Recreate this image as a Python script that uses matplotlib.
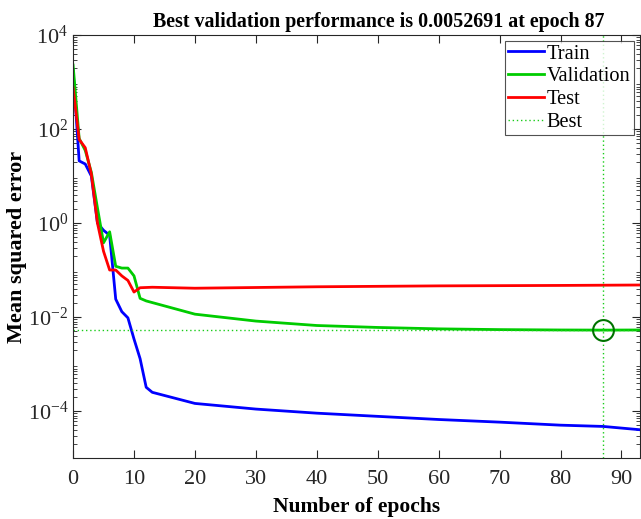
import numpy as np
import matplotlib
matplotlib.use("Agg")
import matplotlib.pyplot as plt
from matplotlib.ticker import LogLocator, NullFormatter, MultipleLocator

plt.rcParams['font.family'] = ['Liberation Serif', 'DejaVu Serif']
plt.rcParams['mathtext.fontset'] = 'custom'
plt.rcParams['mathtext.rm'] = 'Liberation Serif'
plt.rcParams['mathtext.default'] = 'regular'

# training record, sampled at the epochs where the curves bend
train_ep = [0, 1, 2, 3, 4, 5, 6, 7, 8, 9, 10, 11, 12, 13, 20, 30, 40, 50, 60, 70, 80, 87, 93]
train_mse = [1800, 21, 18, 10, 1.0, 0.7, 0.55, 0.024, 0.013, 0.0096, 0.0034, 0.0013,
             3.2e-4, 2.5e-4, 1.45e-4, 1.1e-4, 9.0e-5, 7.7e-5, 6.6e-5, 5.8e-5, 5.0e-5,
             4.7e-5, 4.0e-5]

val_ep = [0, 1, 2, 3, 4, 5, 6, 7, 8, 9, 10, 11, 12, 20, 30, 40, 50, 60, 70, 80, 87, 93]
val_mse = [2300, 63, 35, 12, 2.1, 0.38, 0.65, 0.12, 0.11, 0.11, 0.075, 0.025, 0.022,
           0.0115, 0.0082, 0.0066, 0.0060, 0.0056, 0.0054, 0.0053, 0.0052691, 0.0053]

test_ep = [0, 1, 2, 3, 4, 5, 6, 7, 8, 9, 10, 11, 13, 20, 40, 60, 80, 93]
test_mse = [770, 60, 40, 11, 1.0, 0.25, 0.10, 0.10, 0.075, 0.06, 0.034, 0.042, 0.043,
            0.041, 0.044, 0.046, 0.047, 0.048]

best_epoch = 87
best_perf = 0.0052691
n_epochs = 93

fig = plt.figure(figsize=(6.41, 5.19), dpi=100)
ax = fig.add_axes([0.114, 0.1175, 0.884, 0.815])

ax.semilogy(train_ep, train_mse, color=(0, 0, 1), lw=2, label='Train')
ax.semilogy(val_ep, val_mse, color=(0, 0.8, 0), lw=2, label='Validation')
ax.semilogy(test_ep, test_mse, color=(1, 0, 0), lw=2, label='Test')
ax.axvline(best_epoch, color=(0.1, 0.8, 0.1), lw=1, ls=(0, (1, 2)), label='Best')
ax.axhline(best_perf, color=(0.1, 0.8, 0.1), lw=1, ls=(0, (1, 2)))
ax.plot([best_epoch], [best_perf], 'o', mfc='none', mec=(0, 0.45, 0), ms=15, mew=1.5)

ax.set_xlim(0, n_epochs)
ax.set_ylim(1e-5, 1e4)
ax.xaxis.set_major_locator(MultipleLocator(10))
ax.set_yticks([1e-4, 1e-2, 1e0, 1e2, 1e4])
ax.yaxis.set_minor_locator(LogLocator(base=10, subs=np.arange(2, 10), numticks=20))
ax.yaxis.set_minor_formatter(NullFormatter())

ax.tick_params(which='both', direction='in', top=True, right=True,
               colors='#262626', labelcolor='#262626', labelsize=16)
ax.tick_params(which='major', length=6, width=0.8)
ax.tick_params(which='minor', length=3, width=0.6)
ax.tick_params(axis='x', which='major', pad=8.5)
for sp in ax.spines.values():
    sp.set_color('#262626')
    sp.set_linewidth(0.8)

ax.set_xlabel('Number of epochs', fontsize=15.5, fontweight='bold')
ax.set_ylabel('Mean squared error', fontsize=16, fontweight='bold')
ax.xaxis.set_label_coords(0.5, -0.093)
ax.yaxis.set_label_coords(-0.081, 0.5)
ax.set_title('Best validation performance is 0.0052691 at epoch 87',
             fontsize=14.4, fontweight='bold', x=0.54, pad=6)

leg = ax.legend(loc='upper right', fontsize=14.7, frameon=True, fancybox=False,
                borderpad=0.15, labelspacing=0.18, handlelength=1.75, handletextpad=0.15,
                borderaxespad=0.3)
leg.get_frame().set_edgecolor('#262626')
leg.get_frame().set_linewidth(0.8)

fig.savefig('out.png', dpi=100)
